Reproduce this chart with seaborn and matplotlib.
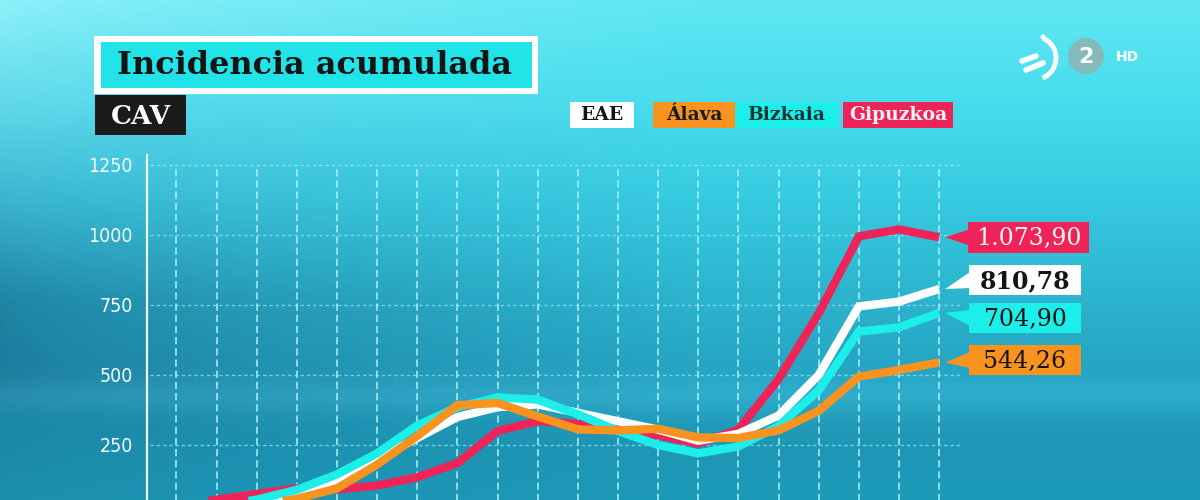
import numpy as np
import pandas as pd
import matplotlib
matplotlib.use("Agg")
import matplotlib.pyplot as plt
import seaborn as sns
from matplotlib import font_manager
from matplotlib.patches import Rectangle, Polygon, Circle, Arc
from matplotlib.lines import Line2D

# ---------------- data ----------------
semanas = list(range(20))
eae = [20, 35, 50, 78, 120, 200, 275, 350, 385, 395, 365, 335, 305, 265, 290, 355, 500, 745, 762, 807]
alava = [10, 20, 35, 58, 95, 180, 282, 392, 400, 352, 306, 302, 308, 277, 275, 302, 372, 494, 518, 545]
bizkaia = [15, 30, 55, 90, 145, 220, 320, 385, 420, 412, 360, 300, 250, 220, 245, 318, 445, 655, 670, 722]
gipuzkoa = [30, 55, 75, 95, 92, 105, 135, 185, 300, 335, 325, 305, 285, 255, 305, 485, 720, 995, 1020, 992]

series = ["Gipuzkoa", "EAE", "Bizkaia", "Álava"]
valores = {"EAE": eae, "Álava": alava, "Bizkaia": bizkaia, "Gipuzkoa": gipuzkoa}
colores = {"EAE": "#ffffff", "Álava": "#f7931e", "Bizkaia": "#1cefe9", "Gipuzkoa": "#ee2458"}
etiquetas = {"Gipuzkoa": "1.073,90", "EAE": "810,78", "Bizkaia": "704,90", "Álava": "544,26"}
leyenda = ["EAE", "Álava", "Bizkaia", "Gipuzkoa"]
yticks = [250, 500, 750, 1000, 1250]
titulo = "Incidencia acumulada"
subtitulo = "CAV"

# ---------------- style ----------------
sns.set_theme(style="white")
plt.rcParams["font.family"] = ["DejaVu Serif", "DejaVu Sans"]

W, H = 1200, 500
fig = plt.figure(figsize=(12, 5), dpi=100)

# ---------------- background ----------------
def hex2rgb(h):
    h = h.lstrip("#")
    return np.array([int(h[i:i + 2], 16) / 255 for i in (0, 2, 4)])

stops_y = np.array([0, 100, 200, 300, 380, 440, 500])
left_c = ["#8ff1f9", "#62d9ea", "#3bb4cf", "#1f83a2", "#1b7b9b", "#1a88a8", "#1d8fae"]
right_c = ["#5fe7f3", "#48dded", "#36cae0", "#2cb3ce", "#24a2c1", "#1f97b7", "#1d9ab9"]
yy = np.arange(H)
L = np.stack([np.interp(yy, stops_y, [hex2rgb(c)[i] for c in left_c]) for i in range(3)], axis=1)
R = np.stack([np.interp(yy, stops_y, [hex2rgb(c)[i] for c in right_c]) for i in range(3)], axis=1)
xx = np.arange(W)
wgt = np.clip(xx / 700, 0, 1) ** 0.7
img = L[:, None, :] * (1 - wgt[None, :, None]) + R[:, None, :] * wgt[None, :, None]
# faint light band behind the chart (glow of the particles)
band = np.exp(-((yy - 395) / 18.0) ** 2) * 0.05
img = np.clip(img + band[:, None, None], 0, 1)

bg = fig.add_axes([0, 0, 1, 1], zorder=0)
bg.imshow(img, extent=[0, W, H, 0], aspect="auto", interpolation="bilinear")
bg.set_xlim(0, W)
bg.set_ylim(H, 0)
bg.axis("off")

# ---------------- chart axes ----------------
ax_l, ax_r, ax_t, ax_b = 147, 960, 155, 515
ax = fig.add_axes([ax_l / W, 1 - ax_b / H, (ax_r - ax_l) / W, (ax_b - ax_t) / H], zorder=1)
ax.patch.set_alpha(0)
ax.set_xlim(-0.732, 19.52)
ax.set_ylim(0, 1285.7)

grid_c = "#a9f3f9"
ax.vlines(semanas, 0, 1250, colors=grid_c, linestyles=(0, (4, 2.2)), linewidth=1.3, alpha=0.85, zorder=1)
for v in yticks:
    ax.plot([-0.66, 19.52], [v, v], color=grid_c, linestyle=(0, (2.5, 2)), linewidth=1.0, alpha=0.6, zorder=1)

df = pd.DataFrame([
    {"semana": s, "valor": valores[n][i], "serie": n}
    for n in series for i, s in enumerate(semanas)
])
sns.lineplot(data=df, x="semana", y="valor", hue="serie", hue_order=series,
             palette=colores, linewidth=6, legend=False, ax=ax, sort=False, zorder=3)
for ln in ax.lines:
    if ln.get_linewidth() > 5:
        ln.set_solid_joinstyle("miter")
        ln.set_solid_capstyle("butt")

for s in ["top", "right", "bottom"]:
    ax.spines[s].set_visible(False)
ax.spines["left"].set_color("#f2fdff")
ax.spines["left"].set_linewidth(1.6)
ax.set_xticks([])
ax.set_yticks(yticks)
ax.set_yticklabels([str(v) for v in yticks])
ax.tick_params(axis="y", length=0, pad=10, labelcolor="#f4fcff", labelsize=14)
for t in ax.get_yticklabels():
    t.set_family("DejaVu Sans")
    t.set_fontstretch("condensed")
    t.set_fontweight("medium")
ax.set_xlabel("")
ax.set_ylabel("")

# ---------------- overlay decorations ----------------
ov = fig.add_axes([0, 0, 1, 1], zorder=4)
ov.patch.set_alpha(0)
ov.set_xlim(0, W)
ov.set_ylim(H, 0)
ov.axis("off")

# title
ov.add_patch(Rectangle((94, 36), 444, 58, fc="white", ec="none"))
ov.add_patch(Rectangle((101, 42), 431, 46, fc="#22e4e8", ec="none"))
ov.text(117, 66, titulo, ha="left", va="center", fontsize=23, fontweight="bold",
        color="#141414", family="DejaVu Serif")
ov.add_patch(Rectangle((95, 95), 91, 40, fc="#1b1b1b", ec="none"))
ov.text(140.5, 116, subtitulo, ha="center", va="center", fontsize=19, fontweight="bold",
        color="white", family="DejaVu Serif")

# legend boxes
leg_boxes = {"EAE": (570, 634), "Álava": (653, 735), "Bizkaia": (735, 837), "Gipuzkoa": (843, 953)}
leg_txt = {"EAE": "#141414", "Álava": "#1a1a1a", "Bizkaia": "#0d3636", "Gipuzkoa": "#fff2f4"}
for n in leyenda:
    x0, x1 = leg_boxes[n]
    ov.add_patch(Rectangle((x0, 102), x1 - x0, 26, fc=colores[n], ec="none"))
    ov.text((x0 + x1) / 2, 115.5, n, ha="center", va="center", fontsize=13.5, fontweight="bold",
            color=leg_txt[n], family="DejaVu Serif")

# value labels with pointers
box_geom = {"Gipuzkoa": (968, 1089, 222, 253), "EAE": (969, 1081, 265, 295),
            "Bizkaia": (969, 1081, 303, 333), "Álava": (969, 1081, 345, 375)}
val_txt = {"Gipuzkoa": "#fff4f6", "EAE": "#141414", "Bizkaia": "#141414", "Álava": "#141414"}
val_w = {"Gipuzkoa": "normal", "EAE": "bold", "Bizkaia": "normal", "Álava": "normal"}
to_ov = ov.transData.inverted()
for n in series:
    x0, x1, y0, y1 = box_geom[n]
    tip = to_ov.transform(ax.transData.transform((semanas[-1] + 0.15, valores[n][-1])))
    yc = (y0 + y1) / 2
    ov.add_patch(Polygon([tip, (x0 + 1, yc - 8), (x0 + 1, yc + 8)], closed=True,
                         fc=colores[n], ec="none"))
    ov.add_patch(Rectangle((x0, y0), x1 - x0, y1 - y0, fc=colores[n], ec="none"))
    ov.text((x0 + x1) / 2, yc + 1, etiquetas[n], ha="center", va="center", fontsize=17,
            fontweight=val_w[n], color=val_txt[n], family="DejaVu Serif")

# channel logo
ov.add_patch(Circle((1086, 56), 18, fc="#88b8b9", ec="none", alpha=0.95))
ov.text(1086, 57, "2", ha="center", va="center", fontsize=16, fontweight="bold",
        color="white", family="DejaVu Sans")
ov.text(1127, 57, "HD", ha="center", va="center", fontsize=10, fontweight="bold",
        color="white", family="DejaVu Sans")
ov.add_patch(Arc((1036, 58), 40, 42, theta1=-70, theta2=72, lw=3.5, color="white"))
ov.add_line(Line2D([1022, 1036], [61, 56], color="white", lw=4, solid_capstyle="round"))
ov.add_line(Line2D([1026, 1043], [70, 63], color="white", lw=4, solid_capstyle="round"))
ov.add_patch(Circle((1043, 37), 2.5, fc="white", ec="none"))

fig.savefig("out.png", dpi=100)
